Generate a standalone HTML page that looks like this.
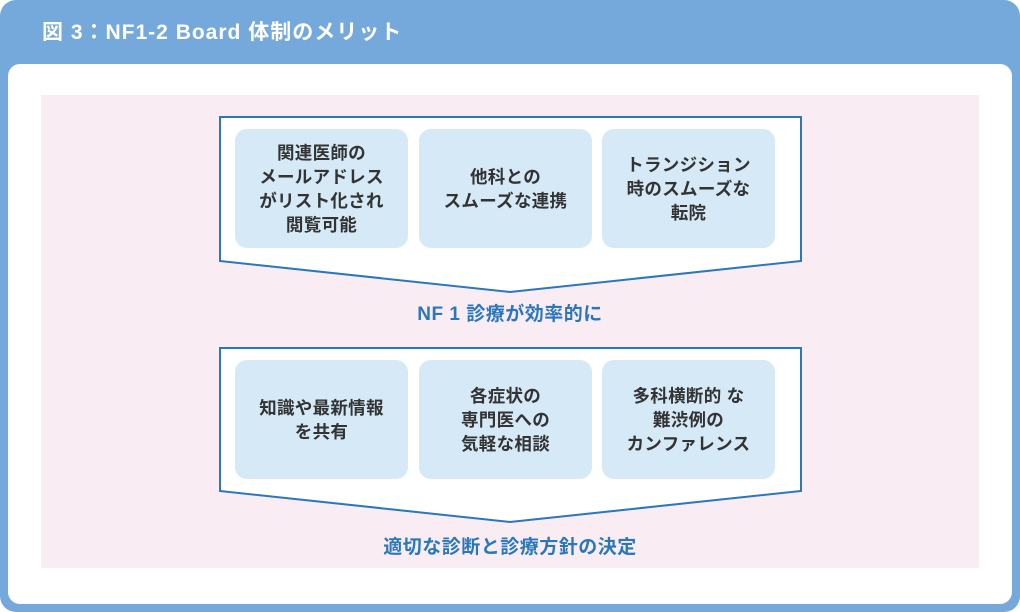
<!DOCTYPE html>
<html><head><meta charset="utf-8"><style>
*{margin:0;padding:0;box-sizing:border-box}
body{width:1020px;height:612px;background:#fff;position:relative;overflow:hidden;font-family:"Liberation Sans","Noto Sans CJK JP",sans-serif}
.frame{position:absolute;left:0;top:0;width:1020px;height:612px;background:#76a9db;border-radius:16px}
.title{position:absolute;left:42px;top:16px;color:#fff;font-weight:bold;font-size:21px;letter-spacing:1px}
.panel{position:absolute;left:8px;top:64px;width:1004px;height:540px;background:#fff;border-radius:12px}
.pink{position:absolute;left:41px;top:95px;width:938px;height:473px;background:#f9edf3}
.box{position:absolute;width:173px;height:119px;background:#d5e9f7;border-radius:12px;display:flex;align-items:center;justify-content:center;text-align:center;font-weight:bold;font-size:17.5px;line-height:24px;color:#333;letter-spacing:0.3px}
.lbl{position:absolute;left:0;width:1020px;text-align:center;color:#2a77bb;font-weight:bold;font-size:19px;letter-spacing:0.5px}
svg{position:absolute;left:0;top:0}
</style></head><body>
<div class="frame"></div>
<div class="title">図 3：NF1-2 Board 体制のメリット</div>
<div class="panel"></div>
<div class="pink"></div>
<svg width="1020" height="612">
<polygon points="220,117 801,117 801,261 510,292 220,261" fill="#fff" stroke="#2a77bb" stroke-width="2"/>
<polygon points="220,348 801,348 801,491 510,522 220,491" fill="#fff" stroke="#2a77bb" stroke-width="2"/>
</svg>
<div class="box" style="left:235px;top:129px">関連医師の<br>メールアドレス<br>がリスト化され<br>閲覧可能</div>
<div class="box" style="left:419px;top:129px">他科との<br>スムーズな連携</div>
<div class="box" style="left:602px;top:129px">トランジション<br>時のスムーズな<br>転院</div>
<div class="lbl" style="top:299px">NF 1 診療が効率的に</div>
<div class="box" style="left:235px;top:360px">知識や最新情報<br>を共有</div>
<div class="box" style="left:419px;top:360px">各症状の<br>専門医への<br>気軽な相談</div>
<div class="box" style="left:602px;top:360px">多科横断的 な<br>難渋例の<br>カンファレンス</div>
<div class="lbl" style="top:532px">適切な診断と診療方針の決定</div>
</body></html>
